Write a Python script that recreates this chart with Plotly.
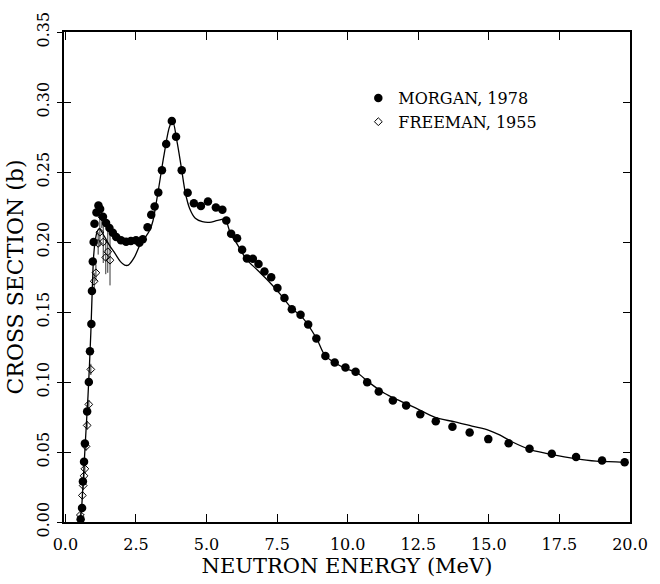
import plotly.graph_objects as go

# Morgan, 1978 (filled circles)
morgan_E = [0.54, 0.59, 0.62, 0.66, 0.69, 0.77, 0.83, 0.87, 0.92, 0.94, 0.97, 1.00, 1.03, 1.10,
            1.17, 1.23, 1.33, 1.44, 1.56, 1.68, 1.80, 1.97, 2.15, 2.32, 2.50, 2.62, 2.74, 2.91,
            3.04, 3.16, 3.29, 3.42, 3.57, 3.77, 3.92, 4.12, 4.33, 4.55, 4.80, 5.05, 5.33, 5.56,
            5.70, 5.87, 6.08, 6.26, 6.43, 6.64, 6.84, 7.05, 7.29, 7.51, 7.76, 8.02, 8.33, 8.60,
            8.89, 9.21, 9.54, 9.92, 10.28, 10.69, 11.10, 11.60, 12.07, 12.57, 13.12, 13.71,
            14.32, 14.98, 15.70, 16.44, 17.23, 18.09, 19.01, 19.81]
morgan_S = [0.002, 0.010, 0.029, 0.043, 0.056, 0.079, 0.100, 0.122, 0.1415, 0.165, 0.186, 0.200,
            0.213, 0.221, 0.226, 0.2235, 0.218, 0.2136, 0.210, 0.2066, 0.2035, 0.2012, 0.2002,
            0.2007, 0.2012, 0.1995, 0.2019, 0.2106, 0.2195, 0.2254, 0.2354, 0.2512, 0.270,
            0.2864, 0.2751, 0.2512, 0.2352, 0.2277, 0.2258, 0.2289, 0.2247, 0.223, 0.2153,
            0.2059, 0.2026, 0.1944, 0.1883, 0.188, 0.1843, 0.1789, 0.1749, 0.1671, 0.160,
            0.152, 0.148, 0.141, 0.131, 0.1185, 0.1139, 0.1103, 0.1073, 0.0998, 0.0932,
            0.0868, 0.0833, 0.077, 0.072, 0.0681, 0.0639, 0.0592, 0.0563, 0.0523, 0.0488,
            0.0465, 0.0439, 0.0427]

# Freeman, 1955 (open diamonds with error bars)
freeman_E = [0.53, 0.60, 0.63, 0.66, 0.69, 0.73, 0.77, 0.83, 0.90, 1.02, 1.08, 1.16, 1.22,
             1.29, 1.34, 1.43, 1.50, 1.58]
freeman_S = [0.005, 0.019, 0.026, 0.033, 0.038, 0.054, 0.069, 0.084, 0.109, 0.172, 0.178,
             0.199, 0.207, 0.218, 0.200, 0.189, 0.193, 0.187]
freeman_err = [0.002, 0.002, 0.003, 0.003, 0.003, 0.003, 0.003, 0.003, 0.004, 0.006, 0.006,
               0.008, 0.010, 0.008, 0.015, 0.012, 0.015, 0.018]

# Evaluated curve (solid line)
curve_E = [0.50, 0.55, 0.62, 0.70, 0.80, 0.90, 0.95, 1.00, 1.05, 1.12, 1.20, 1.35, 1.55, 1.75,
           1.95, 2.10, 2.23, 2.44, 2.68, 2.85, 3.00, 3.10, 3.20, 3.30, 3.50, 3.70, 3.80, 3.95,
           4.10, 4.25, 4.40, 4.60, 4.85, 5.10, 5.40, 5.65, 5.85, 6.10, 6.40, 6.80, 7.20, 7.60,
           8.00, 8.40, 8.90, 9.20, 9.60, 10.0, 10.3, 10.8, 11.3, 11.8, 12.4, 13.1, 13.8, 14.4,
           15.0, 15.4, 15.8, 16.5, 17.3, 18.0, 18.8, 19.5, 19.85]
curve_S = [0.000, 0.005, 0.025, 0.055, 0.090, 0.135, 0.165, 0.190, 0.200, 0.207, 0.2096,
           0.205, 0.198, 0.192, 0.186, 0.1835, 0.1835, 0.189, 0.1995, 0.204, 0.209, 0.215,
           0.226, 0.238, 0.263, 0.283, 0.286, 0.272, 0.254, 0.235, 0.224, 0.217, 0.2145,
           0.214, 0.2155, 0.216, 0.206, 0.198, 0.188, 0.180, 0.172, 0.163, 0.153, 0.146,
           0.131, 0.119, 0.113, 0.109, 0.107, 0.099, 0.092, 0.087, 0.0815, 0.0747, 0.0715,
           0.0685, 0.0655, 0.062, 0.0575, 0.0515, 0.048, 0.0455, 0.0435, 0.043, 0.0425]

x_ticks = [0, 2.5, 5, 7.5, 10, 12.5, 15, 17.5, 20]
x_tick_labels = ["0.0", "2.5", "5.0", "7.5", "10.0", "12.5", "15.0", "17.5", "20.0"]
y_ticks = [0, 0.05, 0.10, 0.15, 0.20, 0.25, 0.30, 0.35]
y_tick_labels = ["0.00", "0.05", "0.10", "0.15", "0.20", "0.25", "0.30", "0.35"]

FONT = "DejaVu Serif"

fig = go.Figure()
fig.add_trace(go.Scatter(x=curve_E, y=curve_S, mode="lines", line=dict(color="black", width=1.3),
                         line_shape="spline", showlegend=False))
fig.add_trace(go.Scatter(x=freeman_E, y=freeman_S, mode="markers", name="FREEMAN, 1955",
                         marker=dict(symbol="diamond-open", size=6, color="black", line=dict(width=1)),
                         error_y=dict(type="data", array=freeman_err, thickness=0.8, width=0, color="black")))
fig.add_trace(go.Scatter(x=morgan_E, y=morgan_S, mode="markers", name="MORGAN, 1978",
                         marker=dict(symbol="circle", size=8.5, color="black")))
# invisible trace on overlay axis to draw outward ticks on the left axis
fig.add_trace(go.Scatter(x=[0], y=[0], yaxis="y2", mode="markers", marker=dict(opacity=0),
                         showlegend=False, hoverinfo="skip"))

fig.update_layout(
    width=660, height=584, autosize=False,
    margin=dict(l=64, r=28, t=28, b=59),
    paper_bgcolor="white", plot_bgcolor="white",
    font=dict(family=FONT, color="black", size=16),
    legend=dict(x=0.52, y=0.9, xanchor="left", yanchor="top", traceorder="reversed",
                font=dict(family=FONT, size=16), bgcolor="rgba(0,0,0,0)", itemwidth=30,
                tracegroupgap=0),
    xaxis=dict(range=[-0.05, 20], tickvals=x_ticks, ticktext=x_tick_labels, ticks="inside",
               ticklen=8, tickwidth=1.3, tickcolor="black", showline=True, linewidth=2,
               linecolor="black", mirror="ticks", showgrid=False, zeroline=False,
               tickfont=dict(size=16), ticklabelstandoff=7,
               title=dict(text="NEUTRON ENERGY (MeV)", font=dict(size=21), standoff=3)),
    yaxis=dict(range=[0, 0.35], tickvals=y_ticks, ticktext=y_tick_labels, ticks="inside",
               ticklen=7, tickwidth=1.3, tickcolor="black", showline=True, linewidth=2,
               linecolor="black", mirror="ticks", showgrid=False, zeroline=False,
               tickangle=-90, tickfont=dict(size=16), ticklabelstandoff=7,
               title=dict(text="CROSS SECTION (b)", font=dict(size=22), standoff=4)),
    yaxis2=dict(range=[0, 0.35], overlaying="y", side="left", tickvals=y_ticks, ticks="outside",
                ticklen=6, tickwidth=1.3, tickcolor="black", showticklabels=False,
                showgrid=False, zeroline=False, showline=False),
)

fig.write_html("out.html")
